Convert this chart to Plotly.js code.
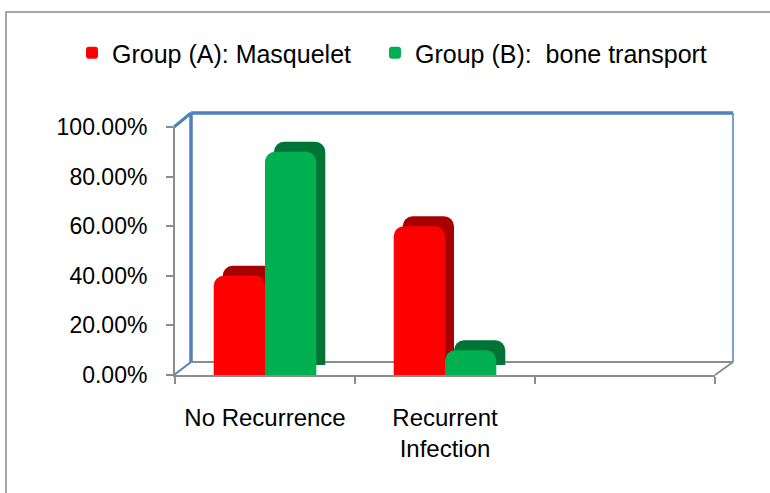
<!DOCTYPE html>
<html>
<head>
<meta charset="utf-8">
<script src="https://cdn.plot.ly/plotly-3.0.1.min.js"></script>
<style>html,body{margin:0;padding:0;background:#fff;}#chart{width:770px;height:493px;}</style>
</head>
<body>
<div id="chart"></div>
<script>
// ---- data ----
var categories = ["No Recurrence", "Recurrent<br>Infection", " "];
var seriesNames = ["Group (A): Masquelet", "Group (B):  bone transport"];
var groupA = [0.40, 0.60, null];
var groupB = [0.90, 0.10, null];
var yTickVals = [0, 0.2, 0.4, 0.6, 0.8, 1.0];

// ---- layout helpers (pixel -> paper) ----
var L = 175, R = 715, T = 127, B = 375;
function X(px){ return (px - L) / (R - L); }
function Y(py){ return (B - py) / (B - T); }
var dx = 9, dy = 10; // bar depth offset in px
var catPx = (R - L) / 3, yPx = (B - T) / 1.0;

var font = "Liberation Sans, Arial, sans-serif";
var redFront = "#ff0000", redSide = "#a80000";
var greenFront = "#00b050", greenSide = "#007336";

var traces = [
  {type:"bar", x:categories, y:groupA, xaxis:"x", yaxis:"y", showlegend:false, hoverinfo:"skip",
   marker:{color:redSide, cornerradius:10}, offsetgroup:"a"},
  {type:"bar", x:categories, y:groupB, xaxis:"x", yaxis:"y", showlegend:false, hoverinfo:"skip",
   marker:{color:greenSide, cornerradius:10}, offsetgroup:"b"},
  {type:"bar", name:seriesNames[0], x:categories, y:groupA, xaxis:"x2", yaxis:"y2", hoverinfo:"skip",
   marker:{color:redFront, cornerradius:10}, offsetgroup:"a", legend:"legend"},
  {type:"bar", name:seriesNames[1], x:categories, y:groupB, xaxis:"x2", yaxis:"y2", hoverinfo:"skip",
   marker:{color:greenFront, cornerradius:10}, offsetgroup:"b", legend:"legend2"}
];

var blue = "#4f81bd", gray = "#8c8c8c";
function line(x0,y0,x1,y1,color,w){
  return {type:"line", xref:"paper", yref:"paper", x0:X(x0), y0:Y(y0), x1:X(x1), y1:Y(y1),
          line:{color:color, width:w}, layer:"below"};
}
var shapes = [
  {type:"rect", xref:"paper", yref:"paper", x0:X(6), y0:Y(12), x1:X(800), y1:Y(520),
   line:{color:gray, width:1.5}, layer:"below"},
  line(191,113,733,113,blue,3.5),
  line(191,113,191,362,blue,3.5),
  line(733,113,733,362,blue,1.5),
  line(174,127,191,113,blue,3),
  line(174,127,174,375,blue,2),
  line(174,375,191,362,blue,2),
  line(191,362,733,362,gray,2),
  line(715,375,733,362,gray,2)
];

var legendStyle = function(xpx){
  return {orientation:"h", x:X(xpx), xanchor:"left", y:Y(53), yanchor:"middle",
          font:{family:font, size:25, color:"#000"}, bgcolor:"rgba(0,0,0,0)", itemwidth:30};
};

var layout = {
  width:770, height:493,
  margin:{l:L, r:770-R, t:T, b:493-B, pad:0},
  paper_bgcolor:"#ffffff", plot_bgcolor:"rgba(0,0,0,0)",
  font:{family:font, size:23, color:"#000000"},
  barmode:"group", bargap:0.43, bargroupgap:0,
  showlegend:true,
  legend:legendStyle(72),
  legend2:legendStyle(375),
  xaxis:{type:"category", range:[-0.5 - dx/catPx, 2.5 - dx/catPx], visible:false, fixedrange:true},
  yaxis:{range:[-dy/yPx, 1.0 - dy/yPx], visible:false, fixedrange:true},
  xaxis2:{type:"category", overlaying:"x", side:"bottom", range:[-0.5, 2.5], showgrid:false, zeroline:false,
         showline:true, linecolor:gray, linewidth:2,
         ticks:"outside", tickson:"boundaries", ticklen:7, tickcolor:gray, tickwidth:2,
         ticklabelstandoff:20, tickfont:{family:font, size:24, color:"#000"}, fixedrange:true},
  yaxis2:{overlaying:"y", side:"left", range:[0,1.0], tickvals:yTickVals, tickformat:".2%", showgrid:false, zeroline:false,
         showline:true, linecolor:gray, linewidth:2,
         ticks:"outside", ticklen:7, tickcolor:gray, tickwidth:2,
         ticklabelstandoff:14, tickfont:{family:font, size:23, color:"#000"}, fixedrange:true},
  shapes:shapes
};

Plotly.newPlot("chart", traces, layout, {displayModeBar:false, staticPlot:true});
</script>
</body>
</html>
